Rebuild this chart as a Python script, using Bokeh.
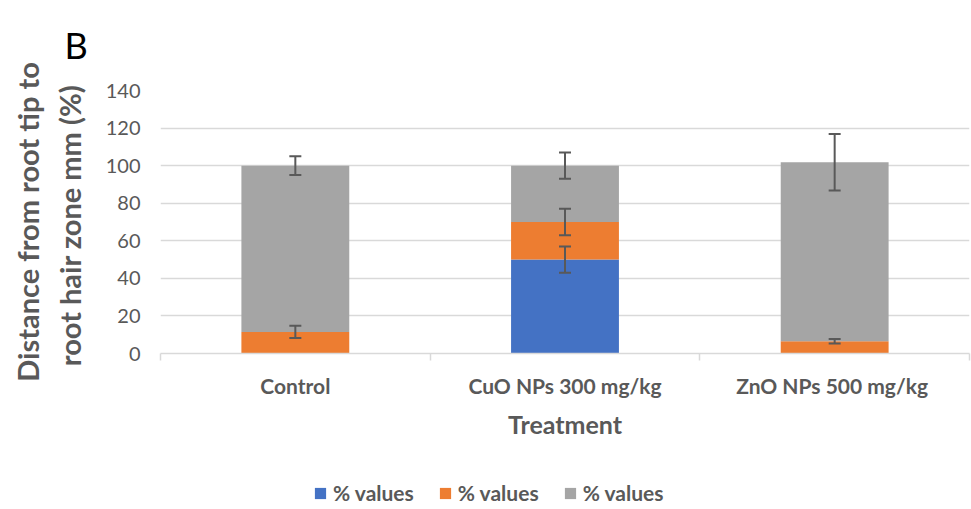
import numpy as np
from bokeh.plotting import figure
from bokeh.layouts import column
from bokeh.models import (ColumnDataSource, FixedTicker, Whisker, TeeHead,
                          Legend, LegendItem, Range1d)
from bokeh.embed import file_html
from bokeh.resources import INLINE

categories = ["Control", "CuO NPs 300 mg/kg", "ZnO NPs  500 mg/kg"]
blue_vals = [0.0, 50.0, 0.0]
orange_vals = [11.5, 20.0, 6.5]
gray_vals = [88.5, 30.0, 95.3]
blue_err = [0.0, 7.0, 0.0]
orange_err = [3.3, 7.0, 1.2]
gray_err = [5.0, 7.0, 15.0]
series_names = ["% values", "% values", "% values"]
y_ticks = [0, 20, 40, 60, 80, 100, 120, 140]

FONT = "Lato"
TXT = "#595959"
GRID = "#d9d9d9"
colors = ["#4472C4", "#ED7D31", "#A5A5A5"]
stack_keys = ["blue", "orange", "gray"]

xpos = [i + 0.5 for i in range(len(categories))]
src = ColumnDataSource(dict(x=xpos, blue=blue_vals, orange=orange_vals, gray=gray_vals))

p = figure(width=971, height=470, output_backend="svg", toolbar_location=None,
           x_range=Range1d(0, len(categories)), y_range=Range1d(0, 140),
           min_border_left=160, min_border_right=2, min_border_top=90,
           min_border_bottom=117)
p.outline_line_color = None
p.background_fill_color = "white"
p.border_fill_color = "white"

p.title.text = "B"
p.title.text_font = FONT
p.title.text_font_size = "36px"
p.title.text_font_style = "normal"
p.title.text_color = "black"
p.title.align = "left"
p.title.vertical_align = "top"
p.title.standoff = 44
p.title.offset = -96

rs = p.vbar_stack(stack_keys, x="x", width=0.4, color=colors,
                  line_color=None, source=src)

tops = np.cumsum(np.array([blue_vals, orange_vals, gray_vals]), axis=0)
errs = [blue_err, orange_err, gray_err]
for k in range(3):
    xs, ups, los = [], [], []
    for i in range(len(categories)):
        if errs[k][i] > 0:
            xs.append(xpos[i])
            ups.append(tops[k][i] + errs[k][i])
            los.append(tops[k][i] - errs[k][i])
    ws = ColumnDataSource(dict(base=xs, upper=ups, lower=los))
    w = Whisker(source=ws, base="base", upper="upper", lower="lower", dimension="height",
                line_color=TXT, line_width=2, level="overlay",
                upper_head=TeeHead(size=12, line_color=TXT, line_width=2),
                lower_head=TeeHead(size=12, line_color=TXT, line_width=2))
    p.add_layout(w)

xa = p.xaxis[0]
xa.ticker = FixedTicker(ticks=xpos, minor_ticks=list(range(len(categories) + 1)))
xa.major_label_overrides = {x: c for x, c in zip(xpos, categories)}
xa.major_tick_line_color = None
xa.major_tick_out = 0
xa.major_tick_in = 0
xa.minor_tick_line_color = GRID
xa.minor_tick_line_width = 1.5
xa.minor_tick_out = 7
xa.minor_tick_in = 0
xa.axis_line_color = GRID
xa.axis_line_width = 1.5
xa.major_label_text_font = FONT
xa.major_label_text_font_style = "bold"
xa.major_label_text_font_size = "21px"
xa.major_label_text_color = TXT
xa.major_label_standoff = 12
xa.axis_label = "Treatment"
xa.axis_label_text_font = FONT
xa.axis_label_text_font_style = "bold"
xa.axis_label_text_font_size = "25px"
xa.axis_label_text_color = TXT
xa.axis_label_standoff = 8

ya = p.yaxis[0]
ya.ticker = FixedTicker(ticks=y_ticks)
ya.axis_line_color = None
ya.major_tick_line_color = None
ya.minor_tick_line_color = None
ya.major_tick_out = 0
ya.major_label_text_font = FONT
ya.major_label_text_font_size = "20px"
ya.major_label_text_color = TXT
ya.major_label_standoff = 20
ya.axis_label = "Distance from root tip to\nroot hair zone mm  (%)"
ya.axis_label_text_font = FONT
ya.axis_label_text_font_style = "bold"
ya.axis_label_text_font_size = "29px"
ya.axis_label_text_color = TXT
ya.axis_label_standoff = 16

p.xgrid.grid_line_color = None
p.ygrid.ticker = FixedTicker(ticks=y_ticks)
p.ygrid.grid_line_color = GRID
p.ygrid.grid_line_width = 1.5

# legend strip: a second figure whose frame fills it; its bars lie outside its y range
q = figure(width=971, height=39, output_backend="svg", toolbar_location=None,
           x_range=Range1d(0, len(categories)), y_range=Range1d(1000, 1001),
           x_axis_location=None, y_axis_location=None,
           min_border_left=0, min_border_right=0, min_border_top=0, min_border_bottom=0)
q.outline_line_color = None
q.xgrid.visible = False
q.ygrid.visible = False
q.background_fill_color = "white"
q.border_fill_color = "white"
qrs = q.vbar_stack(stack_keys, x="x", width=0.4, color=colors, line_color=None, source=src)

legend = Legend(items=[LegendItem(label=n, renderers=[r]) for n, r in zip(series_names, qrs)],
                location=(153, 4), orientation="horizontal",
                glyph_width=14, glyph_height=14, label_standoff=6, spacing=24,
                padding=0, margin=0, border_line_color=None, background_fill_alpha=0,
                label_text_font=FONT, label_text_font_style="bold",
                label_text_font_size="21px", label_text_color=TXT)
q.add_layout(legend, "center")

open("out.html", "w").write(file_html(column(p, q, spacing=0), INLINE))
